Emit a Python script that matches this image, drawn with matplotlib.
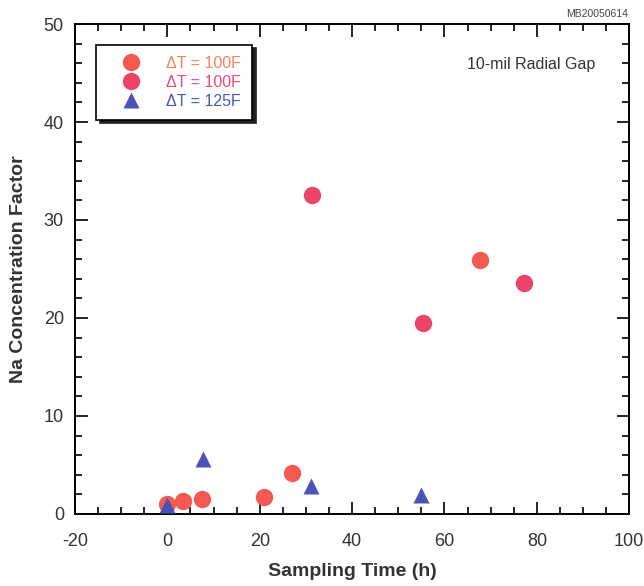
import matplotlib
matplotlib.use('Agg')
import matplotlib.pyplot as plt
from matplotlib.ticker import MultipleLocator

plt.rcParams['font.family'] = ['Liberation Sans', 'DejaVu Sans']
plt.rcParams['axes.unicode_minus'] = False

# dT = 100F (orange-red)
t_a = [0.0, 3.3, 7.4, 20.9, 27.0, 67.8]
na_a = [1.0, 1.3, 1.5, 1.7, 4.2, 25.9]
# dT = 100F (pink)
t_b = [31.3, 55.3, 77.3]
na_b = [32.6, 19.5, 23.6]
# dT = 125F (blue triangles)
t_c = [0.0, 7.8, 31.1, 55.0]
na_c = [0.9, 5.6, 2.8, 1.9]

labels = ['ΔT = 100F', 'ΔT = 100F', 'ΔT = 125F']
colors = ['#f45a52', '#ec4368', '#4a52b8']
text_colors = ['#f5825a', '#ee4a78', '#4a55c0']

fig = plt.figure(figsize=(6.44, 5.86), dpi=100)
ax = fig.add_axes([0.1165, 0.123, 0.8605, 0.836])

ax.plot(t_a, na_a, 'o', color=colors[0], ms=12.5, mec='none', label=labels[0], zorder=3)
ax.plot(t_b, na_b, 'o', color=colors[1], ms=12.5, mec='none', label=labels[1], zorder=3)
ax.plot(t_c, na_c, '^', color=colors[2], ms=12, mec='none', label=labels[2], zorder=4)

ax.set_xlim(-20, 100)
ax.set_ylim(0, 50)
ax.xaxis.set_major_locator(MultipleLocator(20))
ax.xaxis.set_minor_locator(MultipleLocator(5))
ax.yaxis.set_major_locator(MultipleLocator(10))
ax.yaxis.set_minor_locator(MultipleLocator(2))
ax.tick_params(which='both', direction='in', top=True, right=True, width=1.2)
ax.tick_params(which='major', length=9, labelsize=13, labelcolor='#333333')
ax.tick_params(axis='x', which='major', pad=14)
ax.tick_params(axis='y', which='major', pad=8)
ax.tick_params(which='minor', length=5)
for s in ax.spines.values():
    s.set_linewidth(1.4)

ax.set_xlabel('Sampling Time (h)', fontsize=14, fontweight='bold', color='#333333', labelpad=9)
ax.set_ylabel('Na Concentration Factor', fontsize=14, fontweight='bold', color='#333333', labelpad=12)

leg = ax.legend(loc='upper left', bbox_to_anchor=(0.038, 0.958), frameon=True, fancybox=False,
                shadow={'color': '#222222', 'alpha': 1.0, 'ox': 2.5, 'oy': -2.5},
                edgecolor='black', fontsize=11.5,
                borderpad=0.7, labelspacing=0.25, handletextpad=0.7, borderaxespad=0,
                handlelength=3.0)
leg.get_frame().set_linewidth(1.2)
for txt, c in zip(leg.get_texts(), text_colors):
    txt.set_color(c)

ax.text(0.707, 0.908, '10-mil Radial Gap', transform=ax.transAxes, fontsize=11.5, color='#333333')
fig.text(0.975, 0.985, 'MB20050614', ha='right', va='top', fontsize=7.5, color='#444444')

fig.savefig('out.png', dpi=100)
